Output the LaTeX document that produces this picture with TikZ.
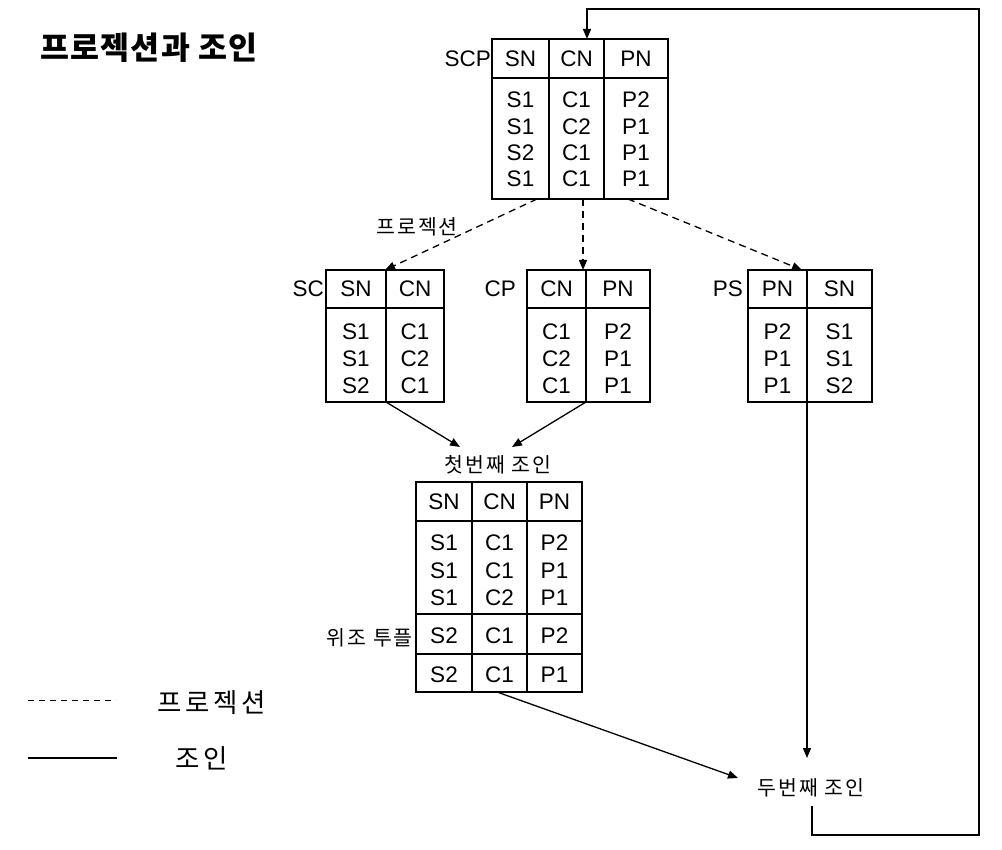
\documentclass[tikz,border=0pt]{standalone}
\usepackage{fontspec}
\setmainfont{Liberation Sans}
\newfontfamily\kr{Noto Sans CJK KR}
\newfontfamily\krt[LetterSpace=4]{Noto Sans CJK KR}
\newfontfamily\krs[LetterSpace=10]{Noto Sans CJK KR}
\newfontfamily\krl[LetterSpace=14]{Noto Sans CJK KR}
\usetikzlibrary{arrows.meta}
\begin{document}
\begin{tikzpicture}[x=1pt,y=-1pt,
  tline/.style={line width=1.5pt},
  cell/.style={font=\fontsize{22.5}{22.5}\selectfont, inner sep=0pt, anchor=center},
  tlabel/.style={font=\fontsize{22.5}{22.5}\selectfont, inner sep=0pt},
  krlabel/.style={font=\krs\fontsize{20.5}{20.5}\selectfont, inner sep=0pt},
  tip/.style={-{Triangle[length=10pt,width=8pt]}},
  projarrow/.style={tip, line width=1.3pt, dash pattern=on 7pt off 5pt},
  joinarrow/.style={tip, line width=1.3pt},
  loopline/.style={line width=1.3pt}]
\useasboundingbox (0,0) rectangle (1002,850);

% title
\node[inner sep=0pt] (title) at (149,48) {\krt\bfseries\fontsize{31.5}{31.5}\selectfont 프로젝션과 조인};

% ---------- SCP ----------
\draw[tline] (492,39) rectangle (668,199);
\draw[tline] (492,78) -- (668,78);
\draw[tline] (549,39) -- (549,199);
\draw[tline] (604,39) -- (604,199);
\node[tlabel, anchor=east] (scpl) at (491,58.5) {SCP};
\node[cell] (scp-h1) at (520.5,58.5) {SN};
\node[cell] (scp-h2) at (576.5,58.5) {CN};
\node[cell] (scp-h3) at (636,58.5) {PN};
\node[cell] (scp-11) at (520.5,100) {S1};
\node[cell] (scp-12) at (576.5,100) {C1};
\node[cell] (scp-13) at (636,100) {P2};
\node[cell] (scp-21) at (520.5,126.5) {S1};
\node[cell] (scp-22) at (576.5,126.5) {C2};
\node[cell] (scp-23) at (636,126.5) {P1};
\node[cell] (scp-31) at (520.5,153) {S2};
\node[cell] (scp-32) at (576.5,153) {C1};
\node[cell] (scp-33) at (636,153) {P1};
\node[cell] (scp-41) at (520.5,179) {S1};
\node[cell] (scp-42) at (576.5,179) {C1};
\node[cell] (scp-43) at (636,179) {P1};
\coordinate (scp-top) at (587,39);
\coordinate (scp-b1) at (537,199);
\coordinate (scp-b2) at (583,199);
\coordinate (scp-b3) at (628,199);

% ---------- SC ----------
\draw[tline] (326,270) rectangle (444,402);
\draw[tline] (326,308) -- (444,308);
\draw[tline] (386,270) -- (386,402);
\node[tlabel, anchor=east] (scl) at (324,289) {SC};
\node[cell] (sc-h1) at (356,289) {SN};
\node[cell] (sc-h2) at (415,289) {CN};
\node[cell] (sc-11) at (356,332) {S1};
\node[cell] (sc-12) at (415,332) {C1};
\node[cell] (sc-21) at (356,359) {S1};
\node[cell] (sc-22) at (415,359) {C2};
\node[cell] (sc-31) at (356,386) {S2};
\node[cell] (sc-32) at (415,386) {C1};
\coordinate (sc-top) at (385,270);
\coordinate (sc-bot) at (386,402);

% ---------- CP ----------
\draw[tline] (527,270) rectangle (650,402);
\draw[tline] (527,308) -- (650,308);
\draw[tline] (586,270) -- (586,402);
\node[tlabel, anchor=east] (cpl) at (516,289) {CP};
\node[cell] (cp-h1) at (556.5,289) {CN};
\node[cell] (cp-h2) at (618,289) {PN};
\node[cell] (cp-11) at (556.5,332) {C1};
\node[cell] (cp-12) at (618,332) {P2};
\node[cell] (cp-21) at (556.5,359) {C2};
\node[cell] (cp-22) at (618,359) {P1};
\node[cell] (cp-31) at (556.5,386) {C1};
\node[cell] (cp-32) at (618,386) {P1};
\coordinate (cp-top) at (583,270);
\coordinate (cp-bot) at (586,402);

% ---------- PS ----------
\draw[tline] (748,270) rectangle (872,402);
\draw[tline] (748,308) -- (872,308);
\draw[tline] (807,270) -- (807,402);
\node[tlabel, anchor=east] (psl) at (743,289) {PS};
\node[cell] (ps-h1) at (777.5,289) {PN};
\node[cell] (ps-h2) at (839.5,289) {SN};
\node[cell] (ps-11) at (777.5,332) {P2};
\node[cell] (ps-12) at (839.5,332) {S1};
\node[cell] (ps-21) at (777.5,359) {P1};
\node[cell] (ps-22) at (839.5,359) {S1};
\node[cell] (ps-31) at (777.5,386) {P1};
\node[cell] (ps-32) at (839.5,386) {S2};
\coordinate (ps-top) at (802,270);
\coordinate (ps-bot) at (807,402);

% ---------- first join ----------
\node[krlabel] (join1) at (498,465) {첫번째 조인};
\draw[tline] (416,482) rectangle (582,692);
\draw[tline] (416,521) -- (582,521);
\draw[tline] (416,614) -- (582,614);
\draw[tline] (416,654) -- (582,654);
\draw[tline] (472,482) -- (472,692);
\draw[tline] (527,482) -- (527,692);
\node[cell] (j-h1) at (444,501.5) {SN};
\node[cell] (j-h2) at (499.5,501.5) {CN};
\node[cell] (j-h3) at (554.5,501.5) {PN};
\node[cell] (j-11) at (444,543) {S1};
\node[cell] (j-12) at (499.5,543) {C1};
\node[cell] (j-13) at (554.5,543) {P2};
\node[cell] (j-21) at (444,570.5) {S1};
\node[cell] (j-22) at (499.5,570.5) {C1};
\node[cell] (j-23) at (554.5,570.5) {P1};
\node[cell] (j-31) at (444,598) {S1};
\node[cell] (j-32) at (499.5,598) {C2};
\node[cell] (j-33) at (554.5,598) {P1};
\node[cell] (j-41) at (444,636) {S2};
\node[cell] (j-42) at (499.5,636) {C1};
\node[cell] (j-43) at (554.5,636) {P2};
\node[cell] (j-51) at (444,675) {S2};
\node[cell] (j-52) at (499.5,675) {C1};
\node[cell] (j-53) at (554.5,675) {P1};
\node[krlabel, anchor=east] (spur) at (413,638) {위조 투플};
\coordinate (j1-in1) at (460,447);
\coordinate (j1-in2) at (512,447);
\coordinate (j1-bot) at (497,692);

% ---------- second join ----------
\node[krlabel] (join2) at (811,788) {두번째 조인};
\coordinate (j2-in1) at (738,778);
\coordinate (j2-in2) at (807,758);
\coordinate (j2-out) at (812,806);
\coordinate (loop1) at (812,835);
\coordinate (loop2) at (979,835);
\coordinate (loop3) at (979,9);
\coordinate (loop4) at (587,9);

% ---------- connectors ----------
\draw[projarrow] (scp-b1) -- (sc-top);
\draw[projarrow] (scp-b2) -- (cp-top);
\draw[projarrow] (scp-b3) -- (ps-top);
\node[krlabel] (projlbl) at (417,227) {프로젝션};

\draw[joinarrow] (sc-bot) -- (j1-in1);
\draw[joinarrow] (cp-bot) -- (j1-in2);
\draw[joinarrow] (ps-bot) -- (j2-in2);
\draw[joinarrow] (j1-bot) -- (j2-in1);
\draw[loopline, tip] (j2-out) -- (loop1) -- (loop2) -- (loop3) -- (loop4) -- (scp-top);

% ---------- legend ----------
\coordinate (lg1a) at (28,700);
\coordinate (lg1b) at (116,700);
\coordinate (lg2a) at (28,758);
\coordinate (lg2b) at (117,758);
\draw[line width=1pt, dash pattern=on 6pt off 5pt] (lg1a) -- (lg1b);
\draw[line width=1.2pt] (lg2a) -- (lg2b);
\node[inner sep=0pt, font=\krl\fontsize{26.5}{26.5}\selectfont] (lgproj) at (212,703) {프로젝션};
\node[inner sep=0pt, font=\krl\fontsize{26.5}{26.5}\selectfont] (lgjoin) at (202,758) {조인};
\end{tikzpicture}
\end{document}
